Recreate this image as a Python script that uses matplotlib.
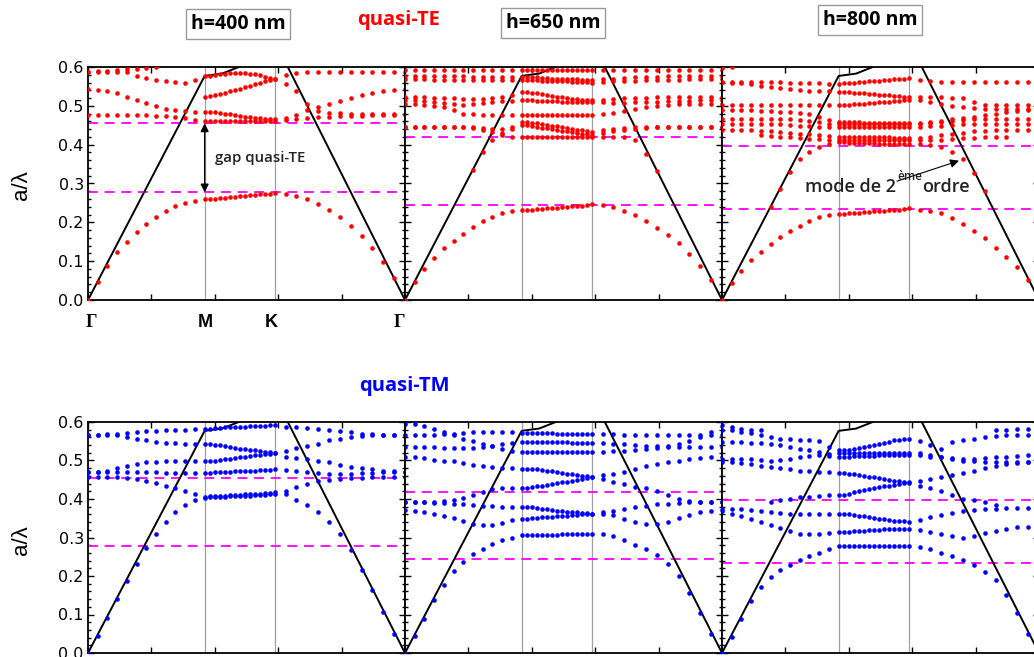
import numpy as np
import matplotlib.pyplot as plt
from matplotlib.ticker import MultipleLocator

N = np.nan

# high symmetry points along the x axis (fraction of panel width)
sym_pos = [0.0, 0.368, 0.589, 1.0]
sym_labels = ['Γ', 'M', 'K', 'Γ']
n_seg = [12, 14, 12]          # k-intervals per segment (Γ-M, M-K, K-Γ)

# light line a/λ = |k|a/2π : Γ, M, along M-K, K, Γ
light_frac_mk = [0, 0.25, 0.5, 0.75, 1.0]
light_mk = [0.577, 0.583, 0.601, 0.629, 0.667]

heights = ['h=400 nm', 'h=650 nm', 'h=800 nm']
gap_top = [0.455, 0.419, 0.397]
gap_bot = [0.277, 0.245, 0.235]

# bands : (Γ-M 13 values, M-K 14 values, K-Γ 12 values)
te400 = [
    ([0, .047, .088, .123, .150, .174, .195, .213, .229, .242, .251, .256, .259],
     [.260, .261, .262, .263, .264, .266, .267, .268, .270, .271, .272, .273, .274, .276],
     [.273, .267, .259, .247, .231, .213, .190, .165, .135, .099, .056, 0]),
    ([.476, .476, .476, .476, .476, .476, .476, .475, .474, .472, .468, .463, .460],
     [.460, .460, .460, .460, .461, .461, .461, .461, .461, .461, .462, .462, .462, .462],
     [.463, .465, .468, .470, .472, .473, .474, .475, .476, .476, .476, .476]),
    ([.543, .542, .538, .532, .523, .514, .507, .499, .493, .489, .486, .485, .484],
     [.484, .483, .482, .480, .478, .476, .474, .472, .470, .469, .468, .467, .466, .465],
     [.468, .476, .488, .497, .505, .512, .520, .527, .533, .538, .541, .543]),
    ([.588, .588, .588, .588, .586, .578, .572, .567, .563, .561, .560, .566, .576],
     [.578, .580, .582, .583, .584, .585, .585, .584, .583, .582, .579, .575, .572, .570],
     [.557, .538, .505, .487, .482, .481, .480, .480, .480, .480, .480, .480]),
    ([.588, .589, .590, .592, .594, .596, .598, .599, N, N, N, N, N],
     [N] * 14,
     [N] * 12),
    ([N, N, N, N, N, N, N, N, N, N, N, N, .523],
     [.525, .527, .530, .533, .537, .540, .544, .548, .552, .556, .560, .564, .567, .570],
     [.579, .585, .587, .587, .587, .587, .587, .587, .587, .587, .587, .588]),
]

te650 = [
    ([0, .047, .081, .107, .133, .153, .171, .189, .203, .214, .223, .229, .231],
     [.232, .233, .234, .235, .236, .237, .238, .239, .240, .241, .242, .243, .245, .247],
     [.244, .240, .230, .219, .204, .186, .167, .146, .118, .088, .051, 0]),
    ([N, N, N, N, N, N, N, .334, .380, .411, .424, .421, .420],
     [.420, .420, .420, .420, .421, .421, .421, .421, .421, .421, .421, .421, .421, .421],
     [.421, .421, .419, .411, .377, .332, N, N, N, N, N, N]),
    ([.591, .591, .591, .591, .591, .591, .591, .591, .591, .591, .591, .591, .591],
     [.592, .592, .592, .592, .592, .592, .592, .592, .592, .592, .592, .592, .592, .592],
     [.591, .591, .591, .591, .591, .591, .591, .591, .591, .591, .591, .591]),
    ([.578, .578, .577, .577, .576, .576, .576, .575, .575, .574, .574, .574, .574],
     [.574, .573, .573, .572, .571, .570, .570, .569, .569, .568, .568, .567, .567, .566],
     [.568, .570, .572, .573, .574, .575, .576, .576, .577, .577, .578, .578]),
    ([.568, .568, .568, .567, .567, .566, .566, .566, .566, .567, .567, .567, .567],
     [.567, .566, .566, .565, .565, .564, .564, .563, .563, .562, .562, .561, .561, .560],
     [.562, .563, .564, .565, .566, .566, .567, .567, .568, .568, .568, .568]),
    ([.523, .523, .522, .521, .520, .519, .518, .518, .518, .520, .523, .528, .536],
     [.536, .534, .532, .530, .528, .526, .524, .522, .520, .518, .517, .516, .515, .514],
     [.515, .517, .519, .520, .521, .522, .522, .523, .523, .523, .523, .523]),
    ([.514, .514, .513, .511, .508, .505, .503, .505, .508, .510, .512, .513, .514],
     [.514, .514, .513, .513, .512, .512, .512, .511, .511, .511, .510, .510, .510, .510],
     [.509, .508, .508, .509, .510, .511, .512, .513, .513, .514, .514, .514]),
    ([.506, .505, .503, .500, .496, .490, .480, .478, .477, .476, .476, .476, .476],
     [.476, .476, .477, .477, .477, .477, .477, .477, .477, .477, .477, .477, .476, .476],
     [.478, .482, .487, .492, .497, .500, .502, .504, .505, .506, .506, .506]),
    ([.446, .446, .446, .446, .446, .446, .446, .445, .443, .440, .440, .446, .459],
     [.459, .457, .455, .453, .451, .449, .447, .445, .443, .441, .439, .437, .435, .433],
     [.437, .440, .443, .445, .446, .446, .446, .446, .446, .446, .446, .446]),
    ([.446, .446, .446, .446, .446, .446, .445, .443, .438, .432, .429, .440, .450],
     [.450, .448, .446, .444, .442, .440, .438, .436, .434, .432, .430, .428, .427, .426],
     [.430, .434, .438, .441, .443, .445, .446, .446, .446, .446, .446, .446]),
]

te800 = [
    ([0, .043, .075, .103, .124, .144, .163, .177, .190, .203, .213, .219, .221],
     [.222, .223, .224, .225, .226, .227, .228, .229, .230, .231, .232, .233, .234, .236],
     [.233, .230, .223, .210, .195, .177, .159, .135, .111, .086, .051, 0]),
    ([N, N, N, N, N, .240, .287, .330, .362, .381, .394, .403, .407],
     [.406, .405, .405, .405, .404, .404, .404, .403, .403, .403, .402, .402, .401, .401],
     [.403, .399, .394, .381, .362, .327, .280, N, N, N, N, N]),
    ([.561, .561, .561, .561, .561, .561, .561, .560, .560, .559, .558, .557, .557],
     [.558, .559, .560, .561, .562, .563, .564, .565, .566, .567, .568, .569, .570, .571],
     [.566, .563, .561, .561, .561, .561, .561, .561, .561, .561, .561, .561]),
    ([.561, .560, .558, .555, .552, .549, .546, .543, .541, .539, .538, .537, .536],
     [.536, .535, .534, .533, .532, .531, .530, .529, .528, .527, .526, .525, .524, .523],
     [.523, .522, .522, .521, .520, .510, .503, .501, .501, .501, .501, .501]),
    ([.501, .501, .501, .501, .501, .501, .502, .502, .502, .502, .502, .502, .502],
     [.502, .503, .504, .505, .506, .507, .508, .509, .510, .511, .512, .513, .514, .515],
     [.515, .510, .505, .500, .496, .494, .493, .493, .493, .493, .493, .493]),
    ([.490, .490, .489, .488, .487, .486, .485, .483, .481, .478, .470, .463, .458],
     [.458, .458, .458, .458, .457, .457, .457, .457, .457, .457, .457, .456, .456, .456],
     [.456, .458, .461, .465, .468, .472, .476, .480, .484, .487, .489, .490]),
    ([.467, .467, .467, .467, .467, .466, .466, .465, .464, .462, .458, .454, .452],
     [.452, .452, .452, .452, .452, .452, .452, .452, .452, .452, .452, .452, .452, .452],
     [.452, .455, .458, .461, .463, .465, .466, .467, .467, .467, .467, .467]),
    ([.454, .454, .454, .454, .454, .453, .452, .450, .448, .447, .446, .446, .446],
     [.446, .446, .446, .446, .446, .446, .446, .446, .446, .446, .446, .446, .446, .446],
     [.446, .447, .449, .451, .452, .453, .454, .454, .454, .454, .454, .454]),
    ([.437, .437, .437, .437, .436, .434, .432, .430, .428, .427, .425, .423, .421],
     [.421, .421, .421, .420, .420, .420, .419, .419, .419, .419, .418, .418, .418, .418],
     [.418, .420, .424, .428, .431, .434, .436, .437, .437, .437, .437, .437]),
    ([N, N, N, N, .425, .423, .421, .419, .417, .415, .414, .413, .412],
     [.412, .412, .412, .412, .412, .412, .412, .412, .412, .411, .411, .411, .411, .411],
     [.411, .412, .413, .414, .416, .418, .419, .420, .421, N, N, N]),
    ([.597, .599, N, N, N, N, N, N, N, N, N, N, N],
     [N] * 14,
     [N] * 12),
]

tm400 = [
    ([0, .043, .092, .139, .186, .230, .274, .310, .339, .366, .385, .398, .403],
     [.404, .405, .405, .406, .407, .407, .408, .409, .409, .410, .410, .411, .412, .413],
     [.412, .398, .384, .366, .340, .308, .267, .215, .163, .106, .050, 0]),
    ([.457, .457, .457, .456, .454, .452, .446, .441, .434, .428, .421, .412, .406],
     [.407, .408, .408, .409, .410, .410, .411, .412, .412, .413, .414, .415, .416, .417],
     [.422, .431, .440, .446, .450, .452, .454, .455, .456, .456, .457, .457]),
    ([.470, .470, .470, .470, .470, .470, .469, .469, .468, .468, .468, .468, .468],
     [.468, .469, .470, .470, .471, .472, .472, .473, .474, .474, .475, .476, .476, .477],
     [.476, .474, .470, .468, .466, .465, .466, .467, .468, .469, .470, .470]),
    ([.470, .470, .473, .480, .487, .492, .495, .497, .498, .499, .499, .499, .499],
     [.499, .500, .502, .503, .505, .506, .508, .510, .511, .513, .515, .516, .518, .520],
     [.509, .507, .505, .500, .496, .489, .483, .481, .479, .474, .472, .470]),
    ([.567, .567, .566, .565, .561, .556, .552, .548, .546, .545, .543, .542, .542],
     [.542, .540, .539, .537, .535, .533, .531, .530, .528, .526, .525, .523, .522, .520],
     [.525, .533, .538, .544, .552, .556, .561, .563, .565, .566, .567, .567]),
    ([.567, .567, .568, .570, .572, .574, .576, .577, .578, .580, .580, .581, .583],
     [.583, .584, .585, .586, .587, .587, .588, .588, .589, .589, .590, .590, .591, .591],
     [.588, .588, .584, .581, .580, .577, .574, .569, .568, .567, .567, .567]),
]

tm650 = [
    ([0, .043, .089, .137, .177, .212, .236, .256, .269, .282, .293, .300, .306],
     [.306, .306, .306, .307, .307, .307, .307, .308, .308, .308, .309, .309, .309, .310],
     [.310, .303, .293, .280, .269, .254, .232, .200, .156, .105, .050, 0]),
    ([.371, .370, .367, .362, .356, .350, .343, .336, .332, .333, .338, .345, .349],
     [.349, .350, .351, .352, .353, .354, .355, .356, .357, .358, .359, .360, .361, .362],
     [.362, .358, .347, .340, .335, .334, .340, .350, .358, .365, .369, .371]),
    ([.392, .392, .392, .390, .389, .388, .386, .384, .382, .381, .380, .379, .379],
     [.379, .378, .376, .375, .373, .372, .370, .369, .367, .366, .365, .364, .363, .362],
     [.366, .370, .375, .379, .383, .386, .388, .390, .391, .392, .392, .392]),
    ([.392, .392, .392, .393, .395, .398, .403, .410, .418, .425, .428, .429, .429],
     [.429, .431, .433, .435, .437, .439, .441, .443, .445, .447, .449, .451, .454, .457],
     [.452, .445, .438, .432, .428, .420, .410, .400, .395, .393, .392, .392]),
    ([.509, .509, .507, .502, .500, .498, .493, .488, .485, .482, .481, .480, .479],
     [.479, .478, .477, .476, .474, .472, .470, .468, .466, .464, .462, .460, .459, .457],
     [.462, .465, .470, .478, .485, .490, .495, .500, .503, .506, .508, .509]),
    ([.535, .535, .535, .534, .533, .532, .532, .533, .535, .538, .542, .546, .549],
     [.549, .549, .549, .548, .548, .548, .547, .547, .547, .546, .546, .545, .545, .545],
     [.545, .544, .542, .540, .538, .537, .536, .535, .535, .535, .535, .535]),
    ([.566, .566, .565, .565, .568, .570, .572, .573, .574, .574, .574, .573, .572],
     [.572, .572, .572, .571, .571, .571, .570, .570, .570, .570, .569, .569, .569, .569],
     [.569, .568, .566, .565, .565, .565, .565, .566, .566, .566, .566, .566]),
    ([.596, .594, .590, .583, .575, .565, .557, .550, .543, .537, .530, .525, .522],
     [.522, .522, .522, .522, .522, .522, .522, .522, .522, .522, .522, .522, .522, .522],
     [.523, .524, .525, .527, .529, .532, .537, .543, .550, .560, .575, .590]),
]

tm800 = [
    ([0, .042, .089, .134, .171, .197, .215, .229, .241, .251, .260, .270, .278],
     [.278, .278, .278, .278, .278, .278, .278, .278, .278, .278, .278, .278, .278, .278],
     [.275, .271, .260, .251, .241, .228, .210, .189, .150, .105, .050, 0]),
    ([.368, .362, .355, .349, .340, .332, .324, .316, .310, .308, .310, .312, .314],
     [.314, .315, .316, .317, .318, .319, .320, .320, .321, .321, .322, .322, .323, .323],
     [.320, .315, .310, .305, .300, .305, .312, .318, .323, .326, .328, .330]),
    ([.375, .375, .374, .372, .369, .366, .364, .362, .362, .362, .362, .362, .362],
     [.362, .361, .359, .357, .355, .353, .351, .349, .347, .346, .344, .343, .342, .340],
     [.345, .352, .358, .364, .368, .371, .373, .375, .376, .377, .377, .377]),
    ([N, N, N, N, N, .392, .397, .401, .404, .406, .408, .410, .411],
     [.411, .414, .417, .420, .423, .426, .429, .431, .433, .435, .437, .439, .441, .442],
     [.435, .428, .420, .410, .400, .397, .392, .385, N, N, N, N]),
    ([.497, .495, .493, .490, .487, .484, .481, .477, .474, .472, .470, .469, .468],
     [.468, .466, .464, .462, .460, .458, .456, .454, .452, .450, .448, .447, .445, .444],
     [.448, .452, .456, .462, .468, .474, .480, .485, .490, .494, .496, .497]),
    ([.505, .505, .504, .503, .501, .500, .502, .505, .508, .512, .515, .518, .520],
     [.520, .520, .520, .520, .520, .520, .520, .520, .520, .520, .520, .520, .520, .520],
     [.519, .514, .508, .503, .500, .498, .497, .496, .496, .496, .496, .496]),
    ([.548, .548, .547, .546, .545, .544, .540, .535, .530, .526, .522, .512, .509],
     [.509, .510, .511, .511, .512, .512, .512, .513, .513, .513, .513, .513, .513, .513],
     [.513, .510, .508, .506, .505, .505, .506, .508, .510, .512, .515, .518]),
    ([.580, .578, .575, .572, .565, .560, .557, .555, .553, .552, .550, .535, .526],
     [.526, .528, .530, .532, .534, .537, .540, .543, .546, .549, .552, .554, .556, .557],
     [.550, .540, .530, .548, .552, .556, .560, .563, .565, .566, .567, .567]),
    ([.592, .587, .583, .580, .578, N, N, N, N, N, N, N, N],
     [N] * 14,
     [N, N, N, N, N, N, N, .578, .580, .581, .582, .583]),
]

# k sampling along Γ-M-K-Γ
G0, M, K, G1 = sym_pos
kx = np.concatenate([np.linspace(G0, M, n_seg[0] + 1),
                     np.linspace(M, K, n_seg[1] + 1)[1:],
                     np.linspace(K, G1, n_seg[2] + 1)[1:]])
light_x = [G0, M] + [M + f * (K - M) for f in light_frac_mk[1:]] + [G1]
light_y = [0.0] + light_mk + [0.0]

W, H = 1034, 657
fig = plt.figure(figsize=(W / 100, H / 100), dpi=100)


def px_box(l, t, r, b):
    return [l / W, 1 - b / H, (r - l) / W, (b - t) / H]


def draw_panel(ax, bands, color, i, first):
    ax.set_xlim(0, 1)
    ax.set_ylim(0, 0.6)
    for p in (M, K):
        ax.axvline(p, color='#a0a0a0', lw=0.9, zorder=1)
    for g in (gap_top[i], gap_bot[i]):
        ax.axhline(g, color='#ff00ff', lw=1.3, dashes=(5.5, 3.7), zorder=2)
    ax.plot(light_x, light_y, color='black', lw=1.4, zorder=3)
    for gm, mk, kg in bands:
        y = np.concatenate([gm, mk, kg])
        ax.plot(kx, y, 'o', color=color, ms=3.3, mec='none', zorder=4)
    ax.xaxis.set_major_locator(MultipleLocator(0.2))
    ax.yaxis.set_major_locator(MultipleLocator(0.1))
    ax.yaxis.set_minor_locator(MultipleLocator(0.02))
    ax.tick_params(which='both', direction='in', top=True, right=True,
                   labelbottom=False, labelleft=first, labelsize=11.5,
                   width=1.0, pad=3)
    ax.tick_params(which='major', length=4)
    ax.tick_params(which='minor', length=2)
    ax.yaxis.set_major_formatter('{x:.1f}')
    for s in ax.spines.values():
        s.set_linewidth(1.3)


lefts = [88, 405, 722]
axes_te = []
for i, bands in enumerate([te400, te650, te800]):
    ax = fig.add_axes(px_box(lefts[i], 67, lefts[i] + 317, 300))
    draw_panel(ax, bands, '#ff0000', i, i == 0)
    axes_te.append(ax)
for i, bands in enumerate([tm400, tm650, tm800]):
    ax = fig.add_axes(px_box(lefts[i], 422, lefts[i] + 317, 653))
    draw_panel(ax, bands, '#0000ff', i, i == 0)

# labels
for y in (185, 540):
    fig.text(22 / W, 1 - y / H, 'a/λ', rotation=90, ha='center', va='center',
             fontsize=16, family='Liberation Sans')

for x, lab in zip([91, 205, 271, 399], sym_labels):
    fam = 'Liberation Serif' if lab == 'Γ' else 'Liberation Sans'
    fig.text(x / W, 1 - 323 / H, lab, ha='center', va='center', fontsize=13,
             fontweight='bold', family=fam)

for (x, y), lab in zip([(238, 24), (553, 23), (870, 20)], heights):
    fig.text(x / W, 1 - y / H, lab, ha='center', va='center', fontsize=14,
             fontweight='bold', family='Open Sans',
             bbox=dict(boxstyle='square,pad=0.25', fc='white', ec='#999999', lw=1))

fig.text(399 / W, 1 - 20 / H, 'quasi-TE', color='#ff0000', ha='center', va='center',
         fontsize=14.5, fontweight='bold', family='Open Sans')
fig.text(404 / W, 1 - 386 / H, 'quasi-TM', color='#0000ff', ha='center', va='center',
         fontsize=14.5, fontweight='bold', family='Open Sans')

# gap arrow
ax1 = axes_te[0]
ax1.annotate('', xy=(M, gap_top[0]), xytext=(M, gap_bot[0]),
             arrowprops=dict(arrowstyle='<|-|>', color='black', lw=1.0,
                             mutation_scale=12, shrinkA=0, shrinkB=0), zorder=5)
ax1.text(0.40, 0.365, 'gap quasi-TE', fontsize=10.8, fontweight='semibold',
         family='Open Sans', va='center', ha='left', color='#222222')

# second order mode arrow
ax3 = axes_te[2]
ax3.annotate('', xy=(kx[31], te800[1][2][4]), xytext=(0.552, 0.306),
             arrowprops=dict(arrowstyle='-|>', color='black', lw=0.8,
                             mutation_scale=13, shrinkA=0, shrinkB=3), zorder=5)
fig.text(896 / W, 1 - 187 / H, 'mode de 2', ha='right', va='center', fontsize=13,
         fontweight='semibold', family='Open Sans', color='#222222')
fig.text(897 / W, 1 - 177 / H, 'ème', ha='left', va='center', fontsize=8.5,
         fontweight='semibold', family='Open Sans', color='#222222')
fig.text(922 / W, 1 - 187 / H, 'ordre', ha='left', va='center', fontsize=13,
         fontweight='semibold', family='Open Sans', color='#222222')

fig.savefig('out.png', dpi=100)
